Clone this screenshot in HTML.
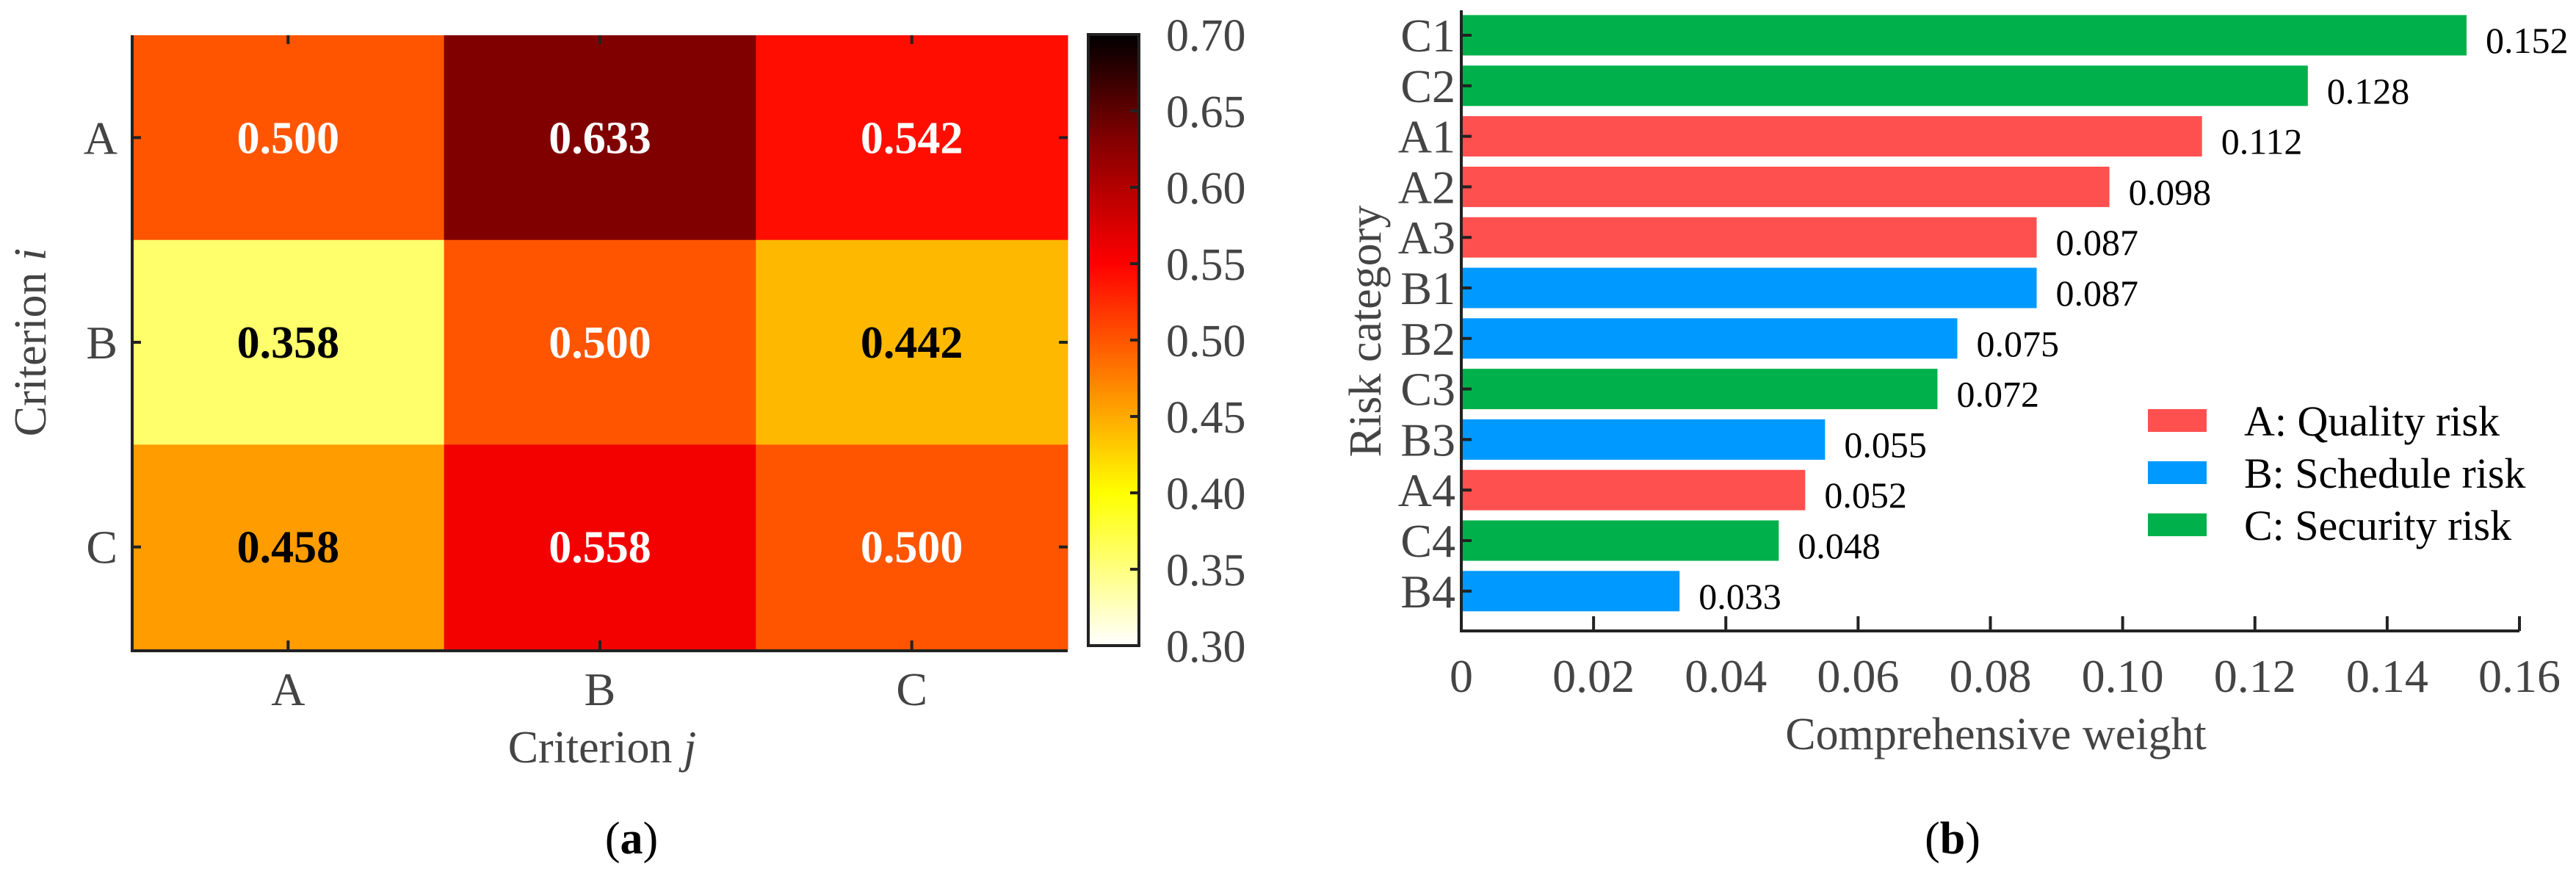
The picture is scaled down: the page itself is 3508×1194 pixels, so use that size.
<!DOCTYPE html>
<html><head><meta charset="utf-8"><style>
html,body{margin:0;padding:0;background:#fff;}
svg{display:block;}
text{font-family:"Liberation Serif","Times New Roman",serif;}
</style></head><body>
<svg id="fig" width="3508" height="1194" viewBox="0 0 3508 1194" xmlns="http://www.w3.org/2000/svg" font-family="Liberation Serif, serif">
<defs>
<linearGradient id="cbgrad" x1="0" y1="1" x2="0" y2="0">
<stop offset="0" stop-color="#ffffff"/>
<stop offset="0.25" stop-color="#ffff00"/>
<stop offset="0.625" stop-color="#ff0000"/>
<stop offset="0.8325" stop-color="#800000"/>
<stop offset="1" stop-color="#000000"/>
</linearGradient>
</defs>
<g id="heat"></g>
<g id="bars"></g>
</svg>
<script>
const rowLabels = ['A','B','C'];
const colLabels = ['A','B','C'];
const matrixValues = [[0.500,0.633,0.542],[0.358,0.500,0.442],[0.458,0.558,0.500]];
const cbTicks = [0.30,0.35,0.40,0.45,0.50,0.55,0.60,0.65,0.70];

const categories = ['C1','C2','A1','A2','A3','B1','B2','C3','B3','A4','C4','B4'];
const weights = [0.152,0.128,0.112,0.098,0.087,0.087,0.075,0.072,0.055,0.052,0.048,0.033];
const xTicks = [0,0.02,0.04,0.06,0.08,0.10,0.12,0.14,0.16];
const xTickLabels = ['0','0.02','0.04','0.06','0.08','0.10','0.12','0.14','0.16'];
const legendLabels = ['A: Quality risk','B: Schedule risk','C: Security risk'];

const NS='http://www.w3.org/2000/svg';
function mk(parent, tag, attrs, text){
  const e=document.createElementNS(NS,tag);
  for(const k in attrs) e.setAttribute(k,attrs[k]);
  if(tag==='text') e.setAttribute('font-family','Liberation Serif, serif');
  if(text!==undefined) e.textContent=text;
  parent.appendChild(e); return e;
}
function cmap(v){
  const t=Math.max(0,Math.min(1,(v-0.30)/0.40));
  let r,g,b;
  if(t<=0.25){r=255;g=255;b=255*(1-t/0.25);}
  else if(t<=0.625){r=255;g=255*(1-(t-0.25)/0.375);b=0;}
  else if(t<=0.8325){r=255-127*(t-0.625)/0.2075;g=0;b=0;}
  else{r=128*(1-(t-0.8325)/0.1675);g=0;b=0;}
  return 'rgb('+Math.round(r)+','+Math.round(g)+','+Math.round(b)+')';
}
// ---- heatmap
const H=document.getElementById('heat');
const hx0=180,hx1=1454,hy0=48,hy1=884;
const cw=(hx1-hx0)/3, ch=(hy1-hy0)/3;
const colX=j=>hx0+cw*(j+0.5), rowY=i=>hy0+ch*(i+0.5);
matrixValues.forEach((row,i)=>row.forEach((v,j)=>{
  const r=mk(H,'rect',{x:hx0+cw*j,y:hy0+ch*i,width:cw+0.5,height:ch+0.5,fill:cmap(v)});
  
  
  const t=mk(H,'text',{x:colX(j),y:rowY(i)+21,'text-anchor':'middle','font-size':62,'font-weight':'bold',fill:v>=0.48?'#fff':'#000'},v.toFixed(3));
  
  
}));
const ax=mk(H,'path',{d:`M${hx0},${hy0} V${hy1+2} H${hx1}`,stroke:'#222','stroke-width':4,fill:'none'});


rowLabels.forEach((l,i)=>{
  mk(H,'line',{x1:hx0,x2:hx0+12,y1:rowY(i),y2:rowY(i),stroke:'#222','stroke-width':4});
  mk(H,'line',{x1:hx1-12,x2:hx1,y1:rowY(i),y2:rowY(i),stroke:'#222','stroke-width':4});
  const t=mk(H,'text',{x:160,y:rowY(i)+22,'text-anchor':'end','font-size':64,fill:'#444'},l);
  
  
});
colLabels.forEach((l,j)=>{
  mk(H,'line',{x1:colX(j),x2:colX(j),y1:hy1-12,y2:hy1,stroke:'#222','stroke-width':4});
  mk(H,'line',{x1:colX(j),x2:colX(j),y1:hy0,y2:hy0+12,stroke:'#222','stroke-width':4});
  const t=mk(H,'text',{x:colX(j),y:960,'text-anchor':'middle','font-size':64,fill:'#444'},l);
  
  
});
const xt=mk(H,'text',{x:820,y:1038,'text-anchor':'middle','font-size':62,fill:'#444'});


xt.innerHTML='Criterion <tspan font-style="italic">j</tspan>';
const yt=mk(H,'text',{transform:'translate(62,466) rotate(-90)','text-anchor':'middle','font-size':62,fill:'#444'});


yt.innerHTML='Criterion <tspan font-style="italic">i</tspan>';
// colorbar
const cbx0=1482,cbx1=1551,cby0=47,cby1=879;
const cbY=v=>cby1-(v-0.30)/0.40*(cby1-cby0);
const cb=mk(H,'rect',{x:cbx0,y:cby0,width:cbx1-cbx0,height:cby1-cby0,fill:'url(#cbgrad)',stroke:'#222','stroke-width':4});


cbTicks.forEach(v=>{
  mk(H,'line',{x1:cbx1-12,x2:cbx1,y1:cbY(v),y2:cbY(v),stroke:'#222','stroke-width':4});
  const t=mk(H,'text',{x:1588,y:cbY(v)+22,'font-size':62,fill:'#444'},v.toFixed(2));
  
  
});
const la=mk(H,'text',{x:860,y:1162,'text-anchor':'middle','font-size':62,fill:'#000'});


la.innerHTML='(<tspan font-weight="bold">a</tspan>)';

// ---- bar chart
const B=document.getElementById('bars');
const bx0=1990,bx1=3431,by0=14,by1=859;
const xS=v=>bx0+v/0.16*(bx1-bx0);
const rowStep=68.8, barH=55;
const yC=i=>48+i*rowStep;
const colorFor=c=>c[0]==='A'?'#ff5050':(c[0]==='B'?'#0099ff':'#00b04a');
categories.forEach((c,i)=>{
  const r=mk(B,'rect',{x:bx0,y:yC(i)-barH/2,width:xS(weights[i])-bx0,height:barH,fill:colorFor(c)});
  
  
  mk(B,'line',{x1:bx0,x2:bx0+14,y1:yC(i),y2:yC(i),stroke:'#222','stroke-width':4});
  const l=mk(B,'text',{x:1982,y:yC(i)+22,'text-anchor':'end','font-size':64,fill:'#444'},c);
  
  
  const vl=mk(B,'text',{x:xS(weights[i])+26,y:yC(i)+24,'font-size':50,fill:'#000'},weights[i].toFixed(3));
  
  
});
const bax=mk(B,'path',{d:`M${bx0},${by0} V${by1} H${bx1}`,stroke:'#222','stroke-width':4,fill:'none'});


xTicks.forEach((v,k)=>{
  mk(B,'line',{x1:xS(v),x2:xS(v),y1:by1-20,y2:by1,stroke:'#222','stroke-width':4});
  const t=mk(B,'text',{x:xS(v),y:942,'text-anchor':'middle','font-size':64,fill:'#444'},xTickLabels[k]);
  
  
});
const bxt=mk(B,'text',{x:2718,y:1020,'text-anchor':'middle','font-size':62,fill:'#444'},'Comprehensive weight');


const byt=mk(B,'text',{transform:'translate(1880,451) rotate(-90)','text-anchor':'middle','font-size':62,fill:'#444'},'Risk category');


const legColors=['#ff5050','#0099ff','#00b04a'];
legendLabels.forEach((l,k)=>{
  const y=557+k*71;
  const s=mk(B,'rect',{x:2925,y:y,width:80,height:31,fill:legColors[k]});
  
  
  const t=mk(B,'text',{x:3056,y:y+36,'font-size':58,fill:'#000'},l);
  
  
});
const lb=mk(B,'text',{x:2659,y:1162,'text-anchor':'middle','font-size':62,fill:'#000'});


lb.innerHTML='(<tspan font-weight="bold">b</tspan>)';
</script>
</body></html>
